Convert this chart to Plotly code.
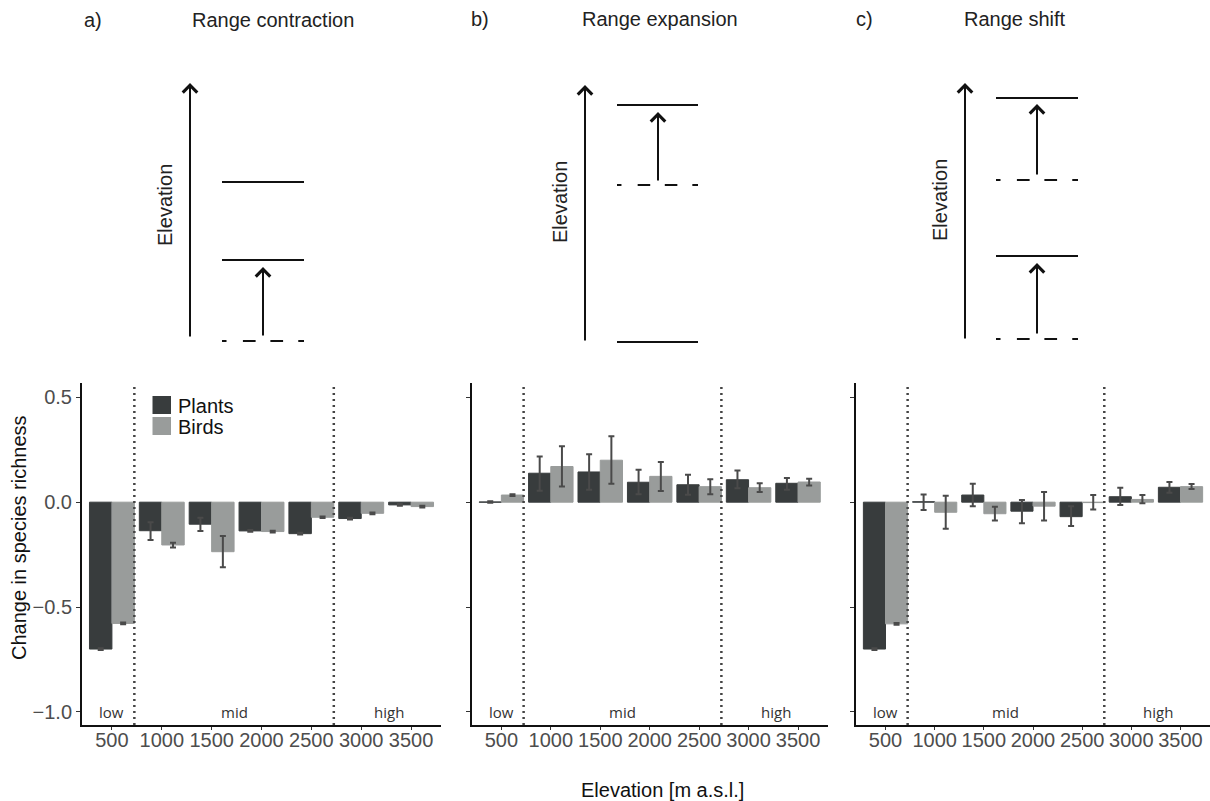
import plotly.graph_objects as go

W, H = 1210, 801

# ---------------------------------------------------------------- data
elevations = ["500", "1000", "1500", "2000", "2500", "3000", "3500"]
zone_names = ["low", "mid", "high"]
zone_centres = [0, 2.45, 5.55]
zone_breaks = [0.45, 4.45]

# a) range contraction
contr_plants = [-0.700, -0.136, -0.105, -0.137, -0.150, -0.078, -0.013]
contr_plants_lo = [-0.704, -0.180, -0.137, -0.141, -0.154, -0.082, -0.017]
contr_plants_hi = [-0.696, -0.096, -0.074, -0.133, -0.146, -0.074, -0.009]
contr_birds = [-0.578, -0.204, -0.236, -0.140, -0.072, -0.053, -0.021]
contr_birds_lo = [-0.582, -0.216, -0.310, -0.144, -0.076, -0.057, -0.025]
contr_birds_hi = [-0.574, -0.193, -0.161, -0.136, -0.068, -0.049, -0.017]

# b) range expansion
expan_plants = [0.001, 0.138, 0.144, 0.095, 0.083, 0.107, 0.090]
expan_plants_lo = [-0.003, 0.054, 0.059, 0.038, 0.035, 0.066, 0.059]
expan_plants_hi = [0.004, 0.218, 0.229, 0.154, 0.131, 0.151, 0.115]
expan_birds = [0.034, 0.170, 0.200, 0.123, 0.074, 0.069, 0.096]
expan_birds_lo = [0.030, 0.075, 0.088, 0.053, 0.038, 0.048, 0.080]
expan_birds_hi = [0.038, 0.266, 0.314, 0.192, 0.109, 0.090, 0.112]

# c) range shift
shift_plants = [-0.700, 0.002, 0.034, -0.043, -0.069, 0.026, 0.071]
shift_plants_lo = [-0.704, -0.037, -0.019, -0.100, -0.114, -0.013, 0.045]
shift_plants_hi = [-0.696, 0.037, 0.088, 0.010, -0.019, 0.069, 0.096]
shift_birds = [-0.580, -0.048, -0.055, -0.019, -0.002, 0.013, 0.074]
shift_birds_lo = [-0.584, -0.127, -0.087, -0.087, -0.035, -0.005, 0.063]
shift_birds_hi = [-0.576, 0.031, -0.022, 0.048, 0.034, 0.034, 0.087]

y_tickvals = [-1.0, -0.5, 0.0, 0.5]
y_ticktext = ["\u22121.0", "\u22120.5", "0.0", "0.5"]

# ---------------------------------------------------------------- style
PLANT_COL = "#383c3d"
BIRD_COL = "#999c9b"
ERR_COL = "#4a4a4a"
TICK_COL = "#4d4d4d"
SANS = "Liberation Sans, Arial, sans-serif"
ZONE_FONT = "Open Sans, sans-serif"


def fx(px):
    return px / W


def fy(py):
    return 1 - py / H


panels = [
    dict(suffix="", dom=(82, 441), title="Range contraction", tag="a)",
         plants=(contr_plants, contr_plants_lo, contr_plants_hi),
         birds=(contr_birds, contr_birds_lo, contr_birds_hi)),
    dict(suffix="2", dom=(471.7, 827.7), title="Range expansion", tag="b)",
         plants=(expan_plants, expan_plants_lo, expan_plants_hi),
         birds=(expan_birds, expan_birds_lo, expan_birds_hi)),
    dict(suffix="3", dom=(856, 1210), title="Range shift", tag="c)",
         plants=(shift_plants, shift_plants_lo, shift_plants_hi),
         birds=(shift_birds, shift_birds_lo, shift_birds_hi)),
]

fig = go.Figure()
layout = dict(
    width=W, height=H,
    margin=dict(l=0, r=0, t=0, b=0),
    paper_bgcolor="white", plot_bgcolor="white",
    barmode="group", bargap=0.1, bargroupgap=0.0,
    showlegend=False,
    font=dict(family=SANS, color="#222"),
)
shapes = []
annotations = []

y_dom = [fy(725), fy(383)]

for k, p in enumerate(panels):
    xa = "x" + p["suffix"]
    ya = "y" + p["suffix"]
    for (vals, lo, hi), name, col in [(p["plants"], "Plants", PLANT_COL),
                                      (p["birds"], "Birds", BIRD_COL)]:
        fig.add_trace(go.Bar(
            x=elevations, y=vals, name=name,
            marker=dict(color=col, line=dict(color=col, width=1)),
            error_y=dict(type="data", symmetric=False,
                         array=[h - v for v, h in zip(vals, hi)],
                         arrayminus=[v - l for v, l in zip(vals, lo)],
                         color=ERR_COL, thickness=2, width=3),
            xaxis=xa, yaxis=ya, offsetgroup=name,
        ))

    layout["xaxis" + p["suffix"]] = dict(
        domain=[fx(p["dom"][0]), fx(p["dom"][1])], anchor=ya,
        type="category", range=[-0.6, 6.6],
        showline=True, linecolor="#111", linewidth=2,
        ticks="outside", ticklen=3, tickcolor="#333", tickwidth=1,
        tickfont=dict(family=SANS, size=20, color=TICK_COL),
        ticklabelstandoff=-7,
        showgrid=False, zeroline=False, fixedrange=True,
    )
    layout["yaxis" + p["suffix"]] = dict(
        domain=y_dom, anchor=xa, range=[-1.062, 0.568],
        tickvals=y_tickvals, ticktext=y_ticktext,
        showticklabels=(k == 0),
        showline=True, linecolor="#111", linewidth=2,
        ticks="outside", ticklen=4, tickcolor="#333", tickwidth=1,
        tickfont=dict(family=SANS, size=20, color=TICK_COL),
        showgrid=False, zeroline=False, fixedrange=True,
    )

    # zone separators
    for xb in zone_breaks:
        shapes.append(dict(type="line", xref=xa, yref=ya + " domain",
                           x0=xb, x1=xb, y0=0, y1=1,
                           line=dict(color="#444", width=2.5, dash="2px,4px")))
    # zone labels
    for zn, zc in zip(zone_names, zone_centres):
        annotations.append(dict(xref=xa, yref=ya, x=zc, y=-1.0, text=zn,
                                showarrow=False,
                                font=dict(family=ZONE_FONT, size=15, color="#333")))

# legend drawn inside panel a
for i, (name, col) in enumerate([("Plants", PLANT_COL), ("Birds", BIRD_COL)]):
    top = 396 + 21 * i
    shapes.append(dict(type="rect", xref="paper", yref="paper",
                       x0=fx(152.5), x1=fx(171), y0=fy(top + 18), y1=fy(top),
                       fillcolor=col, line=dict(width=0)))
    annotations.append(dict(xref="paper", yref="paper", x=fx(175.5), y=fy(top + 9.5),
                            xanchor="left", yanchor="middle", text=name, showarrow=False,
                            font=dict(family=SANS, size=20, color="#111")))

# axis titles
annotations.append(dict(xref="paper", yref="paper", x=fx(19), y=fy(538),
                        text="Change in species richness", textangle=-90,
                        showarrow=False, xanchor="center", yanchor="middle",
                        font=dict(family=SANS, size=20, color="#111")))
annotations.append(dict(xref="paper", yref="paper", x=fx(662), y=fy(790),
                        text="Elevation [m a.s.l.]", showarrow=False,
                        xanchor="center", yanchor="middle",
                        font=dict(family=SANS, size=20, color="#111")))

# ---------------------------------------------------------------- schematics
LINE_COL = "#111"


def hline(x0, x1, y):
    shapes.append(dict(type="line", xref="paper", yref="paper",
                       x0=fx(x0), x1=fx(x1), y0=fy(y), y1=fy(y),
                       line=dict(color=LINE_COL, width=2)))


def dashed(x0, x1, y):
    L = x1 - x0
    for a, b in [(0.0, 0.055), (0.255, 0.41), (0.59, 0.745), (0.93, 1.0)]:
        shapes.append(dict(type="line", xref="paper", yref="paper",
                           x0=fx(x0 + a * L), x1=fx(x0 + b * L), y0=fy(y), y1=fy(y),
                           line=dict(color=LINE_COL, width=2)))


def arrow(x, y_tail, y_head):
    annotations.append(dict(xref="paper", yref="paper", x=fx(x), y=fy(y_head),
                            ax=0, ay=y_tail - y_head, axref="pixel", ayref="pixel",
                            text="", showarrow=True, arrowhead=4, arrowsize=1.4,
                            arrowwidth=2, arrowcolor=LINE_COL, standoff=0))


def label(x, y, text, size=20, angle=0):
    annotations.append(dict(xref="paper", yref="paper", x=fx(x), y=fy(y), text=text,
                            textangle=angle, showarrow=False,
                            xanchor="center", yanchor="middle",
                            font=dict(family=SANS, size=size, color="#222")))


# a) contraction
label(93, 20, "a)")
label(273, 20, "Range contraction")
arrow(190, 338, 83)
label(165, 205, "Elevation", angle=-90)
hline(222, 304, 182)
hline(222, 304, 260)
dashed(222, 304, 341)
arrow(263, 337, 267)

# b) expansion
label(480, 19, "b)")
label(660, 19, "Range expansion")
arrow(585, 342, 85)
label(560, 202, "Elevation", angle=-90)
hline(617, 698, 105)
dashed(617, 698, 185)
hline(617, 698, 342)
arrow(658, 182, 112)

# c) shift
label(865, 19, "c)")
label(1015, 19, "Range shift")
arrow(965, 340, 83)
label(940, 200, "Elevation", angle=-90)
hline(996, 1078, 98)
dashed(996, 1078, 180)
arrow(1037, 176, 104)
hline(996, 1078, 256)
dashed(996, 1078, 339)
arrow(1037, 335, 263)

layout["shapes"] = shapes
layout["annotations"] = annotations
fig.update_layout(**layout)

fig.write_html("out.html", config={"displayModeBar": False})
